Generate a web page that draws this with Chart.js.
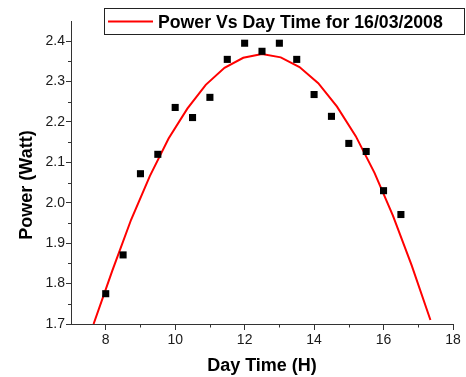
<!DOCTYPE html>
<html><head><meta charset="utf-8">
<script src="https://cdn.jsdelivr.net/npm/chart.js@4/dist/chart.umd.min.js"></script>
<style>html,body{margin:0;padding:0;background:#fff}</style>
</head><body>
<canvas id="c" width="466" height="377"></canvas>
<script>
// Measured data (squares)
const hours = [8, 8.5, 9, 9.5, 10, 10.5, 11, 11.5, 12, 12.5, 13, 13.5, 14, 14.5, 15, 15.5, 16, 16.5];
const power = [1.775, 1.871, 2.072, 2.120, 2.236, 2.211, 2.261, 2.355, 2.395, 2.375, 2.395, 2.355, 2.268, 2.214, 2.147, 2.127, 2.030, 1.971];
// Fitted curve (red line) vertices
const fitHours = [7.65, 8.19, 8.73, 9.27, 9.81, 10.35, 10.88, 11.42, 11.96, 12.50, 13.04, 13.58, 14.12, 14.66, 15.20, 15.74, 16.27, 16.81, 17.35];
const fitPower = [1.700, 1.832, 1.958, 2.066, 2.159, 2.233, 2.292, 2.334, 2.359, 2.368, 2.360, 2.336, 2.296, 2.238, 2.165, 2.074, 1.968, 1.845, 1.710];
const xTicks = [8, 10, 12, 14, 16, 18];
const yTicks = [1.7, 1.8, 1.9, 2.0, 2.1, 2.2, 2.3, 2.4];
const xMinorTicks = [9, 11, 13, 15, 17];
const yMinorTicks = [1.75, 1.85, 1.95, 2.05, 2.15, 2.25, 2.35];
const legendLabel = 'Power Vs Day Time for 16/03/2008';
const xTitle = 'Day Time (H)';
const yTitle = 'Power (Watt)';

const FONT = "'Liberation Sans', Arial, Helvetica, sans-serif";
const AXIS = '#333';

const extras = {
  id: 'extras',
  afterDraw(chart) {
    const ctx = chart.ctx;
    const xs = chart.scales.x, ys = chart.scales.y;
    const ca = chart.chartArea;
    ctx.save();
    // minor ticks
    ctx.strokeStyle = AXIS;
    ctx.lineWidth = 1;
    ctx.beginPath();
    yMinorTicks.forEach(v => {
      const y = Math.round(ys.getPixelForValue(v)) + 0.5;
      ctx.moveTo(ca.left - 3, y); ctx.lineTo(ca.left, y);
    });
    xMinorTicks.forEach(v => {
      const x = Math.round(xs.getPixelForValue(v)) + 0.5;
      ctx.moveTo(x, ca.bottom); ctx.lineTo(x, ca.bottom + 3.5);
    });
    ctx.stroke();
    // y title
    ctx.fillStyle = '#000';
    ctx.font = 'bold 18px ' + FONT;
    ctx.textAlign = 'center';
    ctx.textBaseline = 'middle';
    ctx.translate(27, 185);
    ctx.rotate(-Math.PI / 2);
    ctx.fillText(yTitle, 0, 0);
    ctx.restore();
    // legend
    ctx.save();
    ctx.fillStyle = '#fff';
    ctx.fillRect(104.5, 8.5, 360, 26);
    ctx.strokeStyle = '#222';
    ctx.lineWidth = 1;
    ctx.strokeRect(104.5, 8.5, 360, 26);
    ctx.strokeStyle = '#ff0000';
    ctx.lineWidth = 2;
    ctx.beginPath();
    ctx.moveTo(108, 21.5); ctx.lineTo(153, 21.5);
    ctx.stroke();
    ctx.fillStyle = '#000';
    ctx.font = 'bold 17.7px ' + FONT;
    ctx.textAlign = 'left';
    ctx.textBaseline = 'alphabetic';
    ctx.fillText(chart.data.datasets[0].label, 158, 28);
    ctx.restore();
  }
};

new Chart(document.getElementById('c'), {
  type: 'scatter',
  data: {
    datasets: [
      {
        label: legendLabel,
        data: fitHours.map((h, i) => ({x: h, y: fitPower[i]})),
        showLine: true,
        borderColor: '#ff0000',
        borderWidth: 2,
        pointRadius: 0,
        fill: false,
        tension: 0,
        order: 2
      },
      {
        label: 'Measured',
        data: hours.map((h, i) => ({x: h, y: power[i]})),
        showLine: false,
        pointStyle: 'rect',
        pointRadius: 5,
        pointBackgroundColor: '#000',
        pointBorderWidth: 0,
        borderWidth: 0,
        order: 1
      }
    ]
  },
  options: {
    responsive: false,
    animation: false,
    devicePixelRatio: 1,
    layout: {padding: {top: 21, right: 13, left: 0, bottom: 0}},
    plugins: {legend: {display: false}, tooltip: {enabled: false}, title: {display: false}},
    scales: {
      x: {
        type: 'linear',
        min: 7, max: 18,
        afterBuildTicks: s => { s.ticks = xTicks.map(v => ({value: v})); },
        afterFit: s => { s.height = 53; },
        border: {display: true, color: AXIS, width: 1},
        grid: {drawOnChartArea: false, drawTicks: true, tickLength: 6, tickColor: AXIS},
        ticks: {color: '#1a1a1a', font: {family: FONT, size: 14}, padding: 2, maxRotation: 0, autoSkip: false},
        title: {display: true, text: xTitle, color: '#000', font: {family: FONT, size: 18, weight: 'bold'}, padding: {top: 0, bottom: 0}}
      },
      y: {
        type: 'linear',
        min: 1.7, max: 2.45,
        afterBuildTicks: s => { s.ticks = yTicks.map(v => ({value: v})); },
        afterFit: s => { s.width = 71; },
        border: {display: true, color: AXIS, width: 1},
        grid: {drawOnChartArea: false, drawTicks: true, tickLength: 5, tickColor: AXIS},
        ticks: {color: '#1a1a1a', font: {family: FONT, size: 14}, padding: 1, autoSkip: false,
          callback: v => v.toFixed(1)}
      }
    }
  },
  plugins: [extras]
});
</script>
</body></html>
